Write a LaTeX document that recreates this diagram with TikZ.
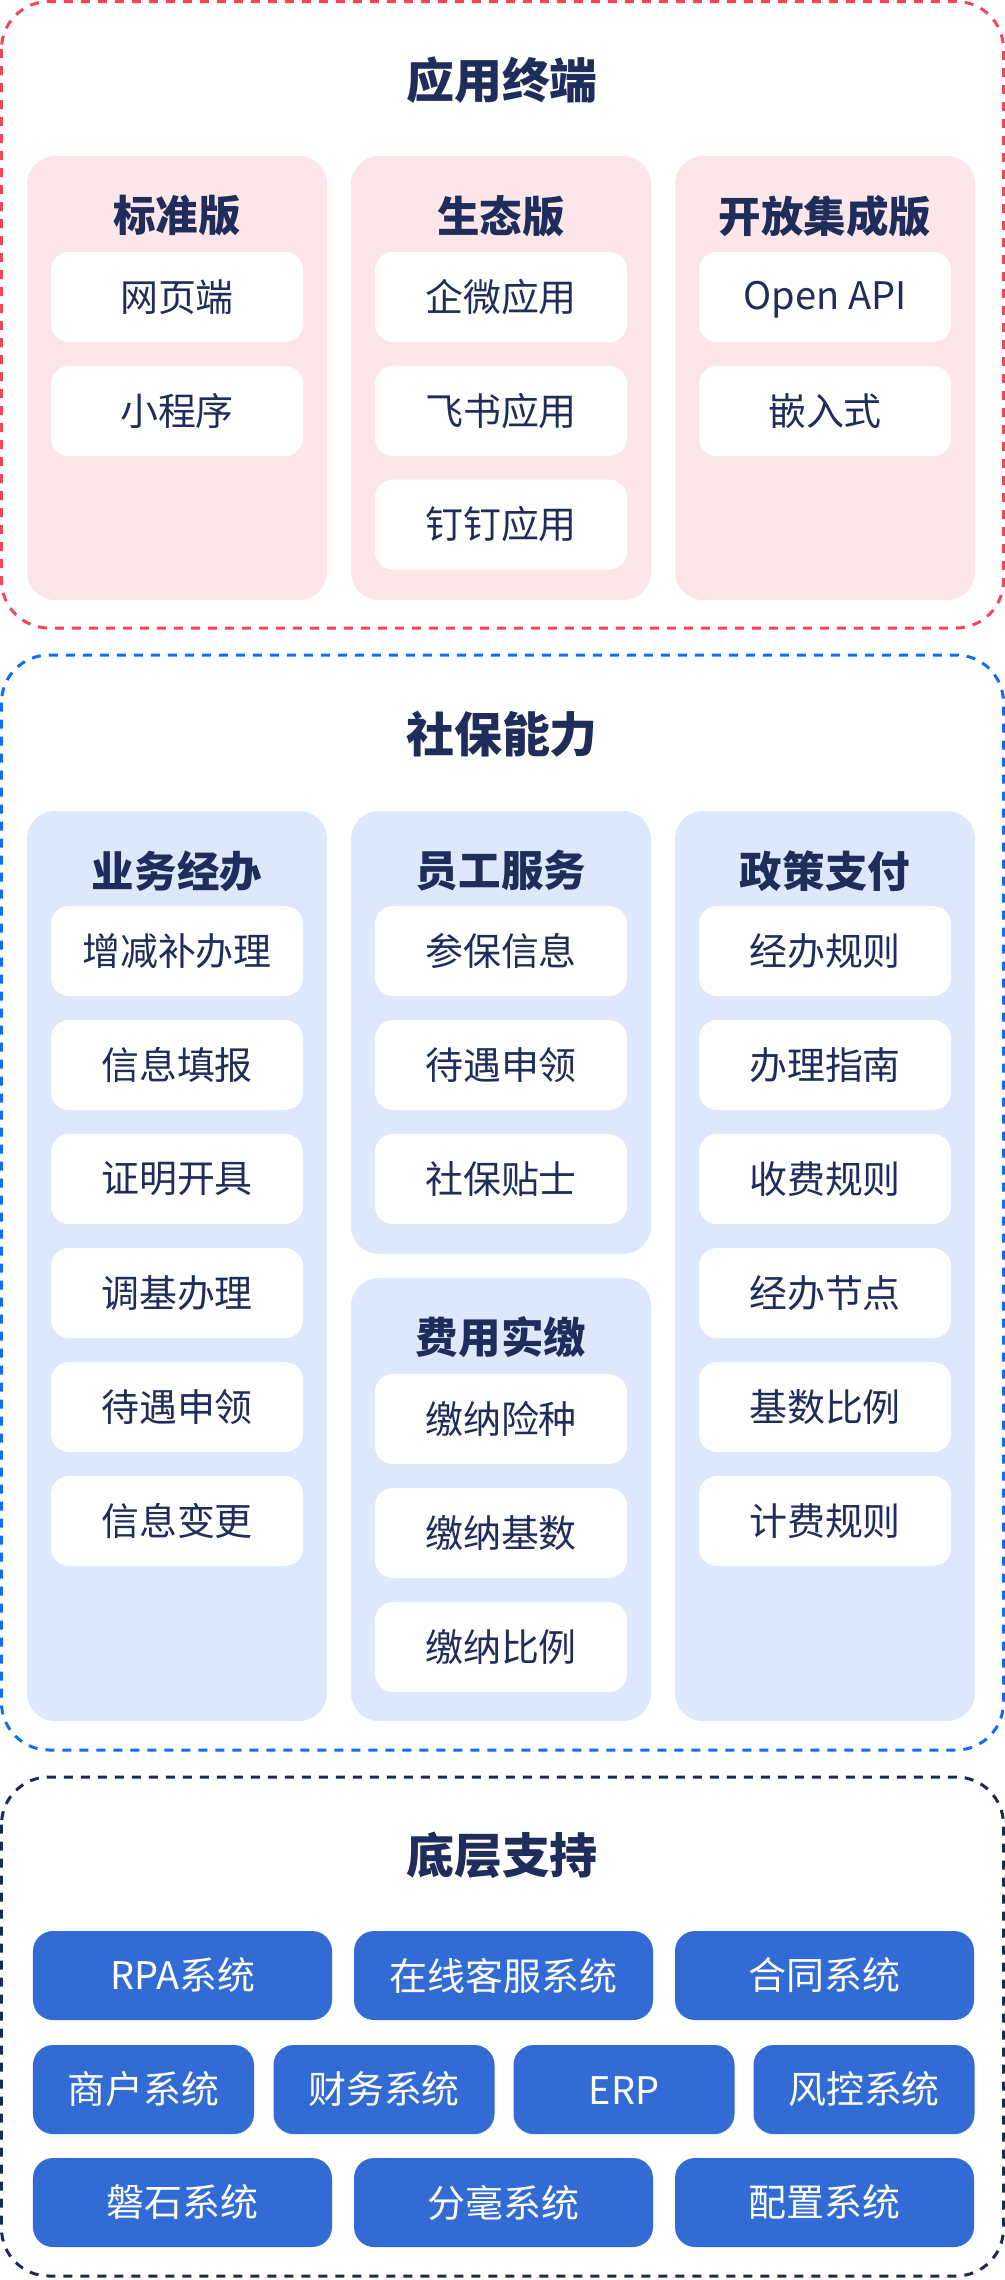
\documentclass[tikz,border=0pt]{standalone}
\usepackage{fontspec}
\setmainfont{Noto Sans CJK SC}
\definecolor{termred}{RGB}{245,69,88}
\definecolor{termpink}{RGB}{253,230,233}
\definecolor{capblue}{RGB}{13,110,253}
\definecolor{caplight}{RGB}{222,232,252}
\definecolor{basenavy}{RGB}{27,42,85}
\definecolor{sysblue}{RGB}{50,107,211}
\definecolor{ink}{RGB}{31,45,90}
\begin{document}
\begin{tikzpicture}[scale=0.2,
	frame/.style={line width=0.06cm, dash pattern=on 0.18cm off 0.16cm, rounded corners=0.95cm},
	title/.style={text=ink, font=\fontsize{27.3}{30}\selectfont\bfseries},
	head/.style={text=ink, font=\fontsize{24.2}{27}\selectfont\bfseries},
	item/.style={fill=white, rounded corners=0.36cm, minimum width=5.04cm, minimum height=1.8cm, text=ink, font=\fontsize{21.6}{24}\selectfont, execute at begin node={\vphantom{用}}},
	sys/.style={fill=sysblue, rounded corners=0.4cm, minimum height=1.78cm, text=white, font=\fontsize{21.6}{24}\selectfont, execute at begin node={\vphantom{用}}}]
		\tikzstyle{every node}+=[inner sep=0pt]
		\useasboundingbox (0,0) rectangle (100.5,-228);
		\draw [termred, frame] (0.15,-0.15) rectangle (100.35,-62.8);
		\draw (50.2,-8.0) node [title] (term) {应用终端};
		\fill [termpink, rounded corners=0.56cm] (2.7,-15.6) rectangle (32.7,-60.0);
		\fill [termpink, rounded corners=0.56cm] (35.1,-15.6) rectangle (65.1,-60.0);
		\fill [termpink, rounded corners=0.56cm] (67.5,-15.6) rectangle (97.5,-60.0);
		\draw (17.7,-21.6) node [head] (std) {标准版};
		\draw (17.7,-29.7) node [item] (std1) {网页端};
		\draw (17.7,-41.1) node [item] (std2) {小程序};
		\draw (50.1,-21.6) node [head] (eco) {生态版};
		\draw (50.1,-29.7) node [item] (eco1) {企微应用};
		\draw (50.1,-41.1) node [item] (eco2) {飞书应用};
		\draw (50.1,-52.45) node [item] (eco3) {钉钉应用};
		\draw (82.5,-21.6) node [head] (open) {开放集成版};
		\draw (82.5,-29.7) node [item] (open1) {\raisebox{-0.08cm}{Open API}};
		\draw (82.5,-41.1) node [item] (open2) {嵌入式};
		\draw [capblue, frame] (0.15,-65.5) rectangle (100.35,-175.0);
		\draw (50.2,-73.4) node [title] (cap) {社保能力};
		\fill [caplight, rounded corners=0.56cm] (2.7,-81.1) rectangle (32.7,-172.1);
		\fill [caplight, rounded corners=0.56cm] (35.1,-81.1) rectangle (65.1,-125.4);
		\fill [caplight, rounded corners=0.56cm] (35.1,-127.8) rectangle (65.1,-172.1);
		\fill [caplight, rounded corners=0.56cm] (67.5,-81.1) rectangle (97.5,-172.1);
		\draw (17.7,-87.1) node [head] (biz) {业务经办};
		\draw (17.7,-95.1) node [item] (biz1) {增减补办理};
		\draw (17.7,-106.5) node [item] (biz2) {信息填报};
		\draw (17.7,-117.9) node [item] (biz3) {证明开具};
		\draw (17.7,-129.3) node [item] (biz4) {调基办理};
		\draw (17.7,-140.7) node [item] (biz5) {待遇申领};
		\draw (17.7,-152.1) node [item] (biz6) {信息变更};
		\draw (50.1,-87.1) node [head] (emp) {员工服务};
		\draw (50.1,-95.1) node [item] (emp1) {参保信息};
		\draw (50.1,-106.5) node [item] (emp2) {待遇申领};
		\draw (50.1,-117.9) node [item] (emp3) {社保贴士};
		\draw (50.1,-133.7) node [head] (fee) {费用实缴};
		\draw (50.1,-141.9) node [item] (fee1) {缴纳险种};
		\draw (50.1,-153.3) node [item] (fee2) {缴纳基数};
		\draw (50.1,-164.7) node [item] (fee3) {缴纳比例};
		\draw (82.5,-87.1) node [head] (pol) {政策支付};
		\draw (82.5,-95.1) node [item] (pol1) {经办规则};
		\draw (82.5,-106.5) node [item] (pol2) {办理指南};
		\draw (82.5,-117.9) node [item] (pol3) {收费规则};
		\draw (82.5,-129.3) node [item] (pol4) {经办节点};
		\draw (82.5,-140.7) node [item] (pol5) {基数比例};
		\draw (82.5,-152.1) node [item] (pol6) {计费规则};
		\draw [basenavy, frame] (0.15,-177.7) rectangle (100.35,-227.6);
		\draw (50.2,-185.5) node [title] (base) {底层支持};
		\draw (18.25,-197.55) node [sys, minimum width=5.98cm] (rpa) {RPA系统};
		\draw (50.35,-197.55) node [sys, minimum width=5.98cm] (kefu) {在线客服系统};
		\draw (82.45,-197.55) node [sys, minimum width=5.98cm] (hetong) {合同系统};
		\draw (14.35,-208.95) node [sys, minimum width=4.42cm] (shanghu) {商户系统};
		\draw (38.4,-208.95) node [sys, minimum width=4.42cm] (caiwu) {财务系统};
		\draw (62.4,-208.95) node [sys, minimum width=4.42cm] (erp) {\raisebox{-0.04cm}{ERP}};
		\draw (86.4,-208.95) node [sys, minimum width=4.42cm] (fengkong) {风控系统};
		\draw (18.25,-220.25) node [sys, minimum width=5.98cm] (panshi) {磐石系统};
		\draw (50.35,-220.25) node [sys, minimum width=5.98cm] (fenhao) {分毫系统};
		\draw (82.45,-220.25) node [sys, minimum width=5.98cm] (peizhi) {配置系统};
		\end{tikzpicture}
\end{document}
